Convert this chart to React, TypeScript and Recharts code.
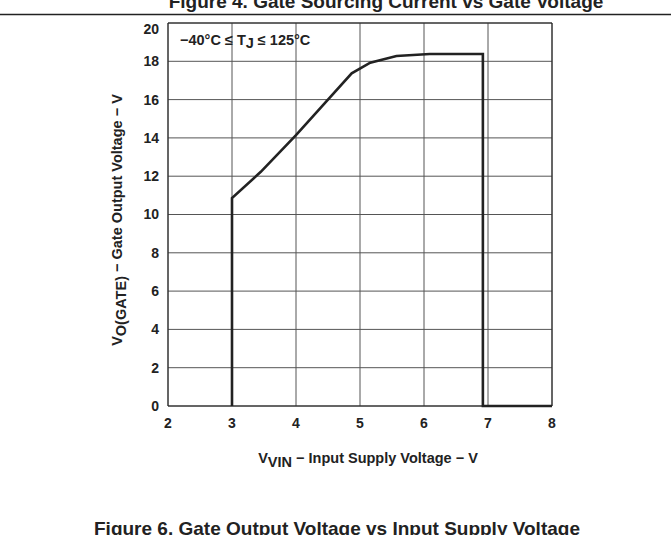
import {
  CartesianGrid,
  Label,
  Line,
  LineChart,
  ReferenceArea,
  XAxis,
  YAxis,
} from "recharts";

// VIN (V) vs VO(GATE) (V)
const vin = [3, 3, 3.45, 4.0, 4.38, 4.87, 5.16, 5.57, 6.09, 6.92, 6.92, 8];
const vGate = [0, 10.86, 12.23, 14.15, 15.55, 17.37, 17.93, 18.28, 18.38, 18.38, 0, 0];

const xTicks = [2, 3, 4, 5, 6, 7, 8];
const yTicks = [0, 2, 4, 6, 8, 10, 12, 14, 16, 18, 20];

const FONT = '"Liberation Sans", Arial, sans-serif';

const data = vin.map((v, i) => ({ vin: v, vgate: vGate[i] }));

const YTick = (props: any) => {
  const { x, y, payload } = props;
  // top label sits a little below the frame in the original
  const shift = payload.value === 20 ? 6 : 0;
  return (
    <text
      x={x}
      y={y + shift}
      dy="0.355em"
      textAnchor="end"
      fontFamily={FONT}
      fontWeight="bold"
      fontSize={14}
      fill="#222"
    >
      {payload.value}
    </text>
  );
};

const XTitle = () => (
  <text
    x={368}
    y={463}
    textAnchor="middle"
    fontFamily={FONT}
    fontWeight="bold"
    fontSize={14.5}
    fill="#222"
  >
    V<tspan dy={4}>VIN</tspan>
    <tspan dy={-4}> − Input Supply Voltage − V</tspan>
  </text>
);

const YTitle = () => (
  <text
    x={122}
    y={220}
    transform="rotate(-90 122 220)"
    textAnchor="middle"
    fontFamily={FONT}
    fontWeight="bold"
    fontSize={14.5}
    fill="#222"
  >
    V<tspan dy={4}>O(GATE)</tspan>
    <tspan dy={-4}> − Gate Output Voltage − V</tspan>
  </text>
);

const App = () => {
  return (
    <div
      style={{
        position: "absolute",
        left: 0,
        top: 0,
        width: 671,
        height: 535,
        overflow: "hidden",
        background: "#fff",
        fontFamily: FONT,
      }}
    >
      <LineChart
        width={671}
        height={535}
        data={data}
        margin={{ top: 23, right: 119, bottom: 99, left: 108 }}
      >
        <CartesianGrid stroke="#555" strokeWidth={1} />
        <XAxis
          dataKey="vin"
          type="number"
          domain={[2, 8]}
          ticks={xTicks}
          axisLine={false}
          tickLine={false}
          tickSize={0}
          tickMargin={12}
          height={30}
          tick={{ fontFamily: FONT, fontWeight: "bold", fontSize: 14, fill: "#222" }}
        >
          <Label content={<XTitle />} />
        </XAxis>
        <YAxis
          type="number"
          domain={[0, 20]}
          ticks={yTicks}
          axisLine={false}
          tickLine={false}
          tickSize={0}
          tickMargin={9}
          width={60}
          tick={<YTick />}
        >
          <Label content={<YTitle />} />
        </YAxis>
        <ReferenceArea
          x1={2}
          x2={8}
          y1={0}
          y2={20}
          fill="none"
          stroke="#222"
          strokeWidth={1}
        />
        <Line
          type="linear"
          dataKey="vgate"
          stroke="#222"
          strokeWidth={2.6}
          dot={false}
          isAnimationActive={false}
        />
      </LineChart>

      <svg
        width={671}
        height={535}
        style={{ position: "absolute", left: 0, top: 0, pointerEvents: "none" }}
      >
        <text
          x={386}
          y={8}
          textAnchor="middle"
          fontFamily={FONT}
          fontWeight="bold"
          fontSize={19}
          fill="#222"
        >
          Figure 4. Gate Sourcing Current vs Gate Voltage
        </text>
        <line x1={0} x2={671} y1={14.5} y2={14.5} stroke="#222" strokeWidth={1.3} />
        <text
          x={180}
          y={45}
          fontFamily={FONT}
          fontWeight="bold"
          fontSize={14.5}
          fill="#222"
        >
          −40°C ≤ T<tspan dy={3}>J</tspan>
          <tspan dy={-3}> ≤ 125°C</tspan>
        </text>
        <text
          x={337}
          y={535}
          textAnchor="middle"
          fontFamily={FONT}
          fontWeight="bold"
          fontSize={19}
          fill="#222"
        >
          Figure 6. Gate Output Voltage vs Input Supply Voltage
        </text>
      </svg>
    </div>
  );
};

export default App;
